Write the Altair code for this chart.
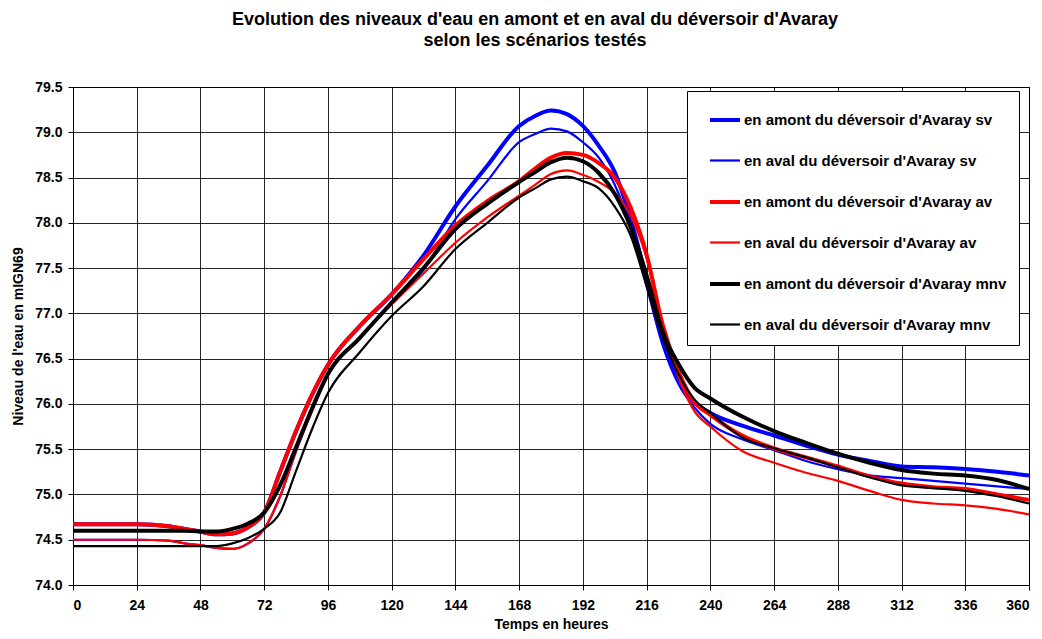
import altair as alt
import pandas as pd

hours = [0, 12, 24, 36, 42, 48, 54, 60, 66, 72, 78, 84, 90, 96, 108, 120, 132, 144, 156, 168,
         174, 180, 186, 192, 198, 204, 210, 216, 222, 228, 234, 240, 252, 264, 276, 288, 300,
         312, 324, 336, 348, 360]

amont_sv = [74.67, 74.67, 74.67, 74.65, 74.62, 74.59, 74.56, 74.57, 74.64, 74.80, 75.25, 75.70,
            76.10, 76.43, 76.86, 77.21, 77.64, 78.18, 78.63, 79.07, 79.18, 79.24, 79.20, 79.07,
            78.85, 78.56, 78.04, 77.38, 76.70, 76.29, 76.02, 75.90, 75.76, 75.65, 75.54, 75.44,
            75.37, 75.31, 75.30, 75.28, 75.25, 75.21]
aval_sv = [74.50, 74.50, 74.50, 74.49, 74.46, 74.44, 74.41, 74.40, 74.46, 74.62, 74.98, 75.48,
           75.92, 76.32, 76.73, 77.10, 77.48, 78.04, 78.46, 78.89, 78.98, 79.04, 79.01, 78.89,
           78.72, 78.42, 77.95, 77.30, 76.65, 76.22, 75.96, 75.78, 75.61, 75.49, 75.37, 75.28,
           75.21, 75.18, 75.15, 75.12, 75.09, 75.06]
amont_av = [74.67, 74.67, 74.67, 74.65, 74.62, 74.59, 74.56, 74.57, 74.64, 74.80, 75.25, 75.70,
            76.10, 76.43, 76.86, 77.21, 77.60, 77.97, 78.24, 78.46, 78.60, 78.72, 78.77, 78.75,
            78.66, 78.50, 78.17, 77.65, 76.88, 76.36, 76.02, 75.88, 75.65, 75.51, 75.41, 75.31,
            75.20, 75.12, 75.08, 75.06, 75.00, 74.94]
aval_av = [74.50, 74.50, 74.50, 74.49, 74.46, 74.44, 74.41, 74.40, 74.46, 74.62, 74.98, 75.48,
           75.92, 76.32, 76.73, 77.10, 77.44, 77.78, 78.06, 78.30, 78.42, 78.54, 78.58, 78.53,
           78.45, 78.33, 78.08, 77.61, 76.85, 76.30, 75.92, 75.75, 75.48, 75.35, 75.24, 75.15,
           75.04, 74.94, 74.90, 74.88, 74.84, 74.78]
amont_mnv = [74.60, 74.60, 74.60, 74.60, 74.60, 74.59, 74.59, 74.62, 74.68, 74.80, 75.10, 75.52,
             75.95, 76.33, 76.73, 77.12, 77.50, 77.93, 78.21, 78.45, 78.56, 78.67, 78.72, 78.68,
             78.55, 78.32, 77.95, 77.42, 76.80, 76.44, 76.18, 76.06, 75.86, 75.70, 75.57, 75.45,
             75.35, 75.27, 75.23, 75.21, 75.16, 75.06]
aval_mnv = [74.43, 74.43, 74.43, 74.43, 74.43, 74.43, 74.43, 74.46, 74.52, 74.62, 74.80, 75.26,
            75.72, 76.12, 76.57, 76.97, 77.30, 77.71, 78.00, 78.28, 78.38, 78.48, 78.51, 78.46,
            78.38, 78.18, 77.86, 77.30, 76.74, 76.33, 76.05, 75.90, 75.63, 75.51, 75.41, 75.30,
            75.19, 75.10, 75.07, 75.04, 74.98, 74.90]

series_names = [
    "en amont du déversoir d'Avaray sv",
    "en aval du déversoir d'Avaray sv",
    "en amont du déversoir d'Avaray av",
    "en aval du déversoir d'Avaray av",
    "en amont du déversoir d'Avaray mnv",
    "en aval du déversoir d'Avaray mnv",
]
series_values = [amont_sv, aval_sv, amont_av, aval_av, amont_mnv, aval_mnv]
series_colors = ["#0000ff", "#0000ff", "#ff0000", "#ff0000", "#000000", "#000000"]
series_widths = [4, 2.2, 4, 2.2, 4, 2.2]

y_ticks = [74.0, 74.5, 75.0, 75.5, 76.0, 76.5, 77.0, 77.5, 78.0, 78.5, 79.0, 79.5]
x_ticks = list(range(0, 361, 24))

rows = []
for name, vals in zip(series_names, series_values):
    for h, v in zip(hours, vals):
        rows.append({"heure": h, "niveau": v, "serie": name})
df = pd.DataFrame(rows)

FONT = "Liberation Sans"

color_scale = alt.Scale(domain=series_names, range=series_colors)
width_scale = alt.Scale(type="ordinal", domain=series_names, range=series_widths)


def make_legend():
    return alt.Legend(title=None, orient="none", legendX=614, legendY=4,
                      symbolType="stroke", symbolSize=900, symbolOffset=9,
                      padding=12, rowPadding=16, labelOffset=2,
                      strokeColor="#000000", fillColor="#ffffff",
                      labelFont=FONT, labelFontSize=15, labelFontWeight="bold",
                      labelColor="#000000", labelLimit=400)


base = alt.Chart(df).encode(
    x=alt.X("heure:Q",
            scale=alt.Scale(domain=[0, 360], nice=False, zero=False),
            axis=alt.Axis(values=x_ticks, title="Temps en heures", format="d",
                          titleX=478, titleY=43, titleBaseline="alphabetic")),
    y=alt.Y("niveau:Q",
            scale=alt.Scale(domain=[74, 79.5], nice=False, zero=False),
            axis=alt.Axis(values=y_ticks, format=".1f", title="Niveau de l'eau en mIGN69",
                          titleX=-55, titleY=249, titleAngle=-90, titleAlign="center",
                          titleBaseline="middle")),
    color=alt.Color("serie:N", scale=color_scale, legend=make_legend()),
    strokeWidth=alt.StrokeWidth("serie:N", scale=width_scale, legend=make_legend()),
)

layers = [
    base.mark_line(interpolate="monotone").transform_filter(alt.datum.serie == name)
    for name in series_names
]

chart = alt.layer(*layers).properties(
    width=956,
    height=498,
    title=alt.TitleParams(
        text=["Evolution des niveaux d'eau en amont et en aval du déversoir d'Avaray",
              "selon les scénarios testés"],
        font=FONT, fontSize=18, fontWeight="bold", color="#000000",
        anchor="middle", dx=-16, offset=30, lineHeight=21,
    ),
    autosize=alt.AutoSizeParams(type="none"),
    padding={"left": 65, "top": 79, "right": 5, "bottom": 46},
).configure_view(
    stroke="#000000", strokeWidth=1,
).configure_axis(
    grid=True, gridColor="#000000", gridWidth=1, gridOpacity=0.85,
    domainColor="#000000", tickColor="#000000", tickSize=5,
    labelFont=FONT, labelFontSize=14, labelFontWeight="bold", labelColor="#000000",
    titleFont=FONT, titleFontSize=14, titleFontWeight="bold", titleColor="#000000",
).configure_axisY(
    labelPadding=6,
).configure_axisX(
    labelPadding=8,
)

chart.save("out.html", embed_options={"renderer": "svg", "actions": False})
